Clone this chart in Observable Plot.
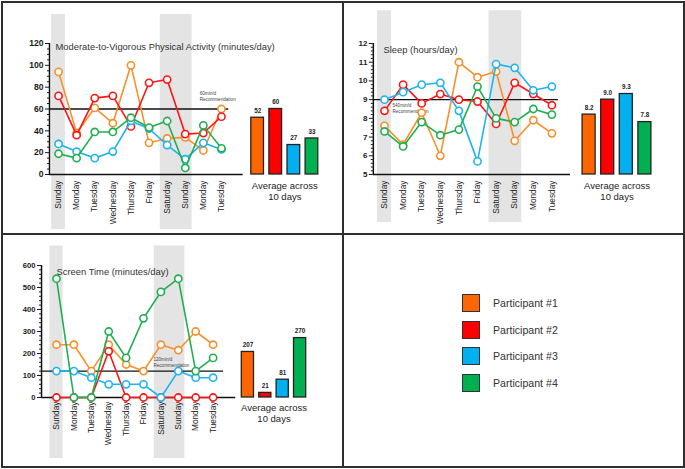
<!DOCTYPE html>
<html><head><meta charset="utf-8">
<script src="https://cdn.jsdelivr.net/npm/d3@7"></script>
<script src="https://cdn.jsdelivr.net/npm/@observablehq/plot@0.6"></script>
<style>
html,body{margin:0;padding:0;background:#fff;}
#root{position:relative;width:685px;height:469px;overflow:hidden;font-family:"Liberation Sans",Arial,sans-serif;background:#fff;}
.panel{position:absolute;}
.panel svg{overflow:visible;}
.rule{position:absolute;background:#2e2e2e;}
.frame{position:absolute;border:2px solid #2e2e2e;box-sizing:border-box;}
.leg{position:absolute;display:flex;align-items:center;}
.sw{width:16px;height:16px;border:1.5px solid #333;box-sizing:content-box;}
.lt{margin-left:13px;font-size:10.6px;color:#333;}
</style></head><body><div id="root"></div>
<script>
// ---------- data ----------
const days = ["Sunday","Monday","Tuesday","Wednesday","Thursday","Friday","Saturday","Sunday","Monday","Tuesday"];
const participants = ["Participant #1","Participant #2","Participant #3","Participant #4"];
const lineColors = ["#F7902A","#FF1414","#1EB4F0","#20AF50"];
const barColors = ["#FF6600","#FF0000","#00B0F0","#00B050"];

const mvpaTitle = "Moderate-to-Vigorous Physical Activity (minutes/day)";
const mvpaP1 = [94, 38, 61, 47, 100, 29, 33, 34, 22, 60];
const mvpaP2 = [72, 36, 70, 72, 44, 84, 87, 37, 38, 53];
const mvpaP3 = [28, 21, 15, 21, 49, 42, 27, 14, 29, 23];
const mvpaP4 = [19, 15, 39, 39, 52, 43, 49, 6, 45, 24];
const mvpaAvg = [52, 60, 27, 33];
const mvpaTicks = [0, 20, 40, 60, 80, 100, 120];
const mvpaRec = 60;
const mvpaRecLabel = "60min/d\nRecommendation";

const sleepTitle = "Sleep (hours/day)";
const sleepP1 = [7.6, 6.6, 8.3, 6.0, 11.0, 10.2, 10.5, 6.8, 7.9, 7.2];
const sleepP2 = [8.4, 9.8, 8.8, 9.3, 9.0, 8.9, 7.7, 9.9, 9.3, 8.7];
const sleepP3 = [9.0, 9.4, 9.8, 9.9, 8.4, 5.7, 10.9, 10.7, 9.5, 9.7];
const sleepP4 = [7.3, 6.5, 7.8, 7.1, 7.4, 9.7, 8.0, 7.8, 8.5, 8.2];
const sleepAvg = [8.2, 9.0, 9.3, 7.8];
const sleepTicks = [5, 6, 7, 8, 9, 10, 11, 12];
const sleepRec = 9;
const sleepRecLabel = "540min/d\nRecommendation";

const screenTitle = "Screen Time (minutes/day)";
const screenP1 = [240, 240, 120, 240, 150, 120, 240, 215, 300, 240];
const screenP2 = [0, 0, 0, 210, 0, 0, 0, 0, 0, 0];
const screenP3 = [120, 120, 90, 60, 60, 60, 0, 120, 90, 90];
const screenP4 = [540, 0, 0, 300, 180, 360, 480, 540, 120, 180];
const screenAvg = [207, 21, 81, 270];
const screenTicks = [0, 100, 200, 300, 400, 500, 600];
const screenRec = 120;
const screenRecLabel = "120min/d\nRecommendation";

const avgLabel = "Average across\n10 days";

// ---------- helpers ----------
function weekendRuns() {
  const runs = [];
  days.forEach((d, i) => {
    const we = d === "Saturday" || d === "Sunday";
    if (!we) return;
    const last = runs[runs.length - 1];
    if (last && last.end === i - 1) last.end = i; else runs.push({start: i, end: i});
  });
  return runs;
}

function makePanel(cfg) {
  const [y0, y1] = cfg.yDomain;
  const span = y1 - y0;
  const barX = participants.map((p, k) => days.length + 1 + k);
  const minor = d3.range(y0, y1 + 1e-9, cfg.minorStep).filter(v => !cfg.ticks.some(t => Math.abs(t - v) < 1e-9));
  const marks = [];
  marks.push(Plot.rect(weekendRuns(), {
    x1: r => r.start - 0.38, x2: r => r.end + 0.38,
    y1: () => y0 - cfg.bandBelow * span, y2: () => y1 + cfg.bandAbove * span,
    fill: "#e4e4e4"
  }));
  marks.push(Plot.text([cfg.title], {x: () => 0, y: () => y1, dx: cfg.titleDx, dy: cfg.titleDy,
    text: d => d, textAnchor: "start", fontSize: 9.4, fill: "#333"}));
  marks.push(Plot.ruleY([cfg.rec], {x1: () => cfg.xDomain[0], x2: () => cfg.recEnd, stroke: "#111", strokeWidth: 1.4}));
  marks.push(Plot.text([cfg.recLabel], {x: () => cfg.recLabelX, y: () => cfg.rec, dy: cfg.recLabelDy,
    text: d => d, textAnchor: "start", lineAnchor: "middle", fontSize: 4.6, lineHeight: 1.3, fill: "#444"}));
  // axes
  marks.push(Plot.ruleY([y0], {x1: () => cfg.xDomain[0], x2: () => cfg.axisEnd, stroke: "#111", strokeWidth: 1.5}));
  marks.push(Plot.ruleX([cfg.xDomain[0]], {y1: () => y0, y2: () => y1, stroke: "#111", strokeWidth: 1.5}));
  marks.push(Plot.axisY({ticks: cfg.ticks, tickSize: 4, tickPadding: 2, fontSize: cfg.tickFont, fontWeight: "bold",
    stroke: "#1a1a1a", fill: "#1a1a1a", label: null, tickFormat: d => String(d)}));
  marks.push(Plot.axisY({ticks: minor, tickSize: 2, tickFormat: () => "", stroke: "#1a1a1a", label: null}));
  // series
  cfg.series.forEach((arr, k) => {
    const pts = arr.map((v, i) => ({i, v}));
    marks.push(Plot.line(pts, {x: "i", y: "v", stroke: lineColors[k], strokeWidth: 1.6}));
    marks.push(Plot.dot(pts, {x: "i", y: "v", r: 3.6, stroke: lineColors[k], strokeWidth: 1.6, fill: "white"}));
  });
  // bars
  cfg.avg.forEach((v, k) => {
    marks.push(Plot.rect([v], {x1: () => barX[k] - 0.35, x2: () => barX[k] + 0.35, y1: () => y0, y2: d => d,
      fill: barColors[k], stroke: "#222", strokeWidth: 1.3}));
  });
  marks.push(Plot.text(cfg.avg, {x: (d, k) => barX[k], y: d => d, text: d => cfg.fmt(d), dy: -7,
    fontWeight: "bold", fontSize: 6.3, fill: "#222"}));
  marks.push(Plot.text([avgLabel], {x: () => (barX[0] + barX[3]) / 2, y: () => y0, dy: cfg.avgDy,
    text: d => d, lineAnchor: "top", fontSize: 9.5, lineHeight: 1.15, fill: "#222"}));
  // day labels
  marks.push(Plot.text(days, {x: (d, i) => i, y: () => y0, text: d => d, rotate: -90, textAnchor: "end",
    lineAnchor: "middle", dy: cfg.dayDy, fontSize: 8.3, fill: "#222"}));

  const svg = Plot.plot({
    width: cfg.width, height: cfg.height,
    marginTop: cfg.mt, marginBottom: cfg.mb, marginLeft: cfg.ml, marginRight: cfg.mr,
    x: {domain: cfg.xDomain, axis: null},
    y: {domain: cfg.yDomain, label: null},
    style: {background: "transparent", overflow: "visible", fontFamily: "Liberation Sans, Arial, sans-serif"},
    marks
  });
  const div = document.createElement("div");
  div.className = "panel";
  div.style.left = cfg.left + "px"; div.style.top = cfg.top + "px";
  div.appendChild(svg);
  document.getElementById("root").appendChild(div);
}

makePanel({
  left: 0, top: 0, width: 343, height: 234, mt: 43, mb: 60, ml: 49, mr: 20.7,
  xDomain: [-0.5, 14.6], yDomain: [0, 120], ticks: mvpaTicks, minorStep: 5, tickFont: 8.6,
  series: [mvpaP1, mvpaP2, mvpaP3, mvpaP4], avg: mvpaAvg, fmt: d => String(d),
  title: mvpaTitle, titleDx: -3, titleDy: 3,
  rec: mvpaRec, recEnd: 9.4, recLabel: mvpaRecLabel, recLabelX: 7.8, recLabelDy: -13,
  axisEnd: 10.2, bandAbove: 0.222, bandBelow: 0.42, avgDy: 7, dayDy: 6
});
makePanel({
  left: 343, top: 0, width: 342, height: 234, mt: 43, mb: 60, ml: 29.84, mr: 29.44,
  xDomain: [-0.6, 14.6], yDomain: [5, 12], ticks: sleepTicks, minorStep: 0.2, tickFont: 8,
  series: [sleepP1, sleepP2, sleepP3, sleepP4], avg: sleepAvg, fmt: d => d.toFixed(1),
  title: sleepTitle, titleDx: -1, titleDy: 6,
  rec: sleepRec, recEnd: 9.35, recLabel: sleepRecLabel, recLabelX: 0.43, recLabelDy: 8,
  axisEnd: 10.0, bandAbove: 0.25, bandBelow: 0.367, avgDy: 7, dayDy: 6
});
makePanel({
  left: 0, top: 234, width: 343, height: 235, mt: 31, mb: 72, ml: 41.04, mr: 32.96,
  xDomain: [-0.86, 14.6], yDomain: [0, 600], ticks: screenTicks, minorStep: 20, tickFont: 7.6,
  series: [screenP1, screenP2, screenP3, screenP4], avg: screenAvg, fmt: d => String(d),
  title: screenTitle, titleDx: 0, titleDy: 6,
  rec: screenRec, recEnd: 9.6, recLabel: screenRecLabel, recLabelX: 5.57, recLabelDy: -9,
  axisEnd: 10.3, bandAbove: 0.148, bandBelow: 0.462, avgDy: 6, dayDy: 4
});

// legend
const root = document.getElementById("root");
participants.forEach((p, k) => {
  const row = document.createElement("div");
  row.className = "leg";
  row.style.left = "462px";
  row.style.top = (294 + k * 26.7) + "px";
  row.innerHTML = `<div class="sw" style="background:${barColors[k]}"></div><div class="lt">${p}</div>`;
  root.appendChild(row);
});

// panel frames
const fr = document.createElement("div");
fr.className = "frame";
Object.assign(fr.style, {left: "1px", top: "1px", width: "684px", height: "467px"});
root.appendChild(fr);
const v = document.createElement("div");
v.className = "rule";
Object.assign(v.style, {left: "342px", top: "1px", width: "2px", height: "467px"});
root.appendChild(v);
const h = document.createElement("div");
h.className = "rule";
Object.assign(h.style, {left: "1px", top: "233px", width: "684px", height: "2px"});
root.appendChild(h);
</script>
</body></html>
